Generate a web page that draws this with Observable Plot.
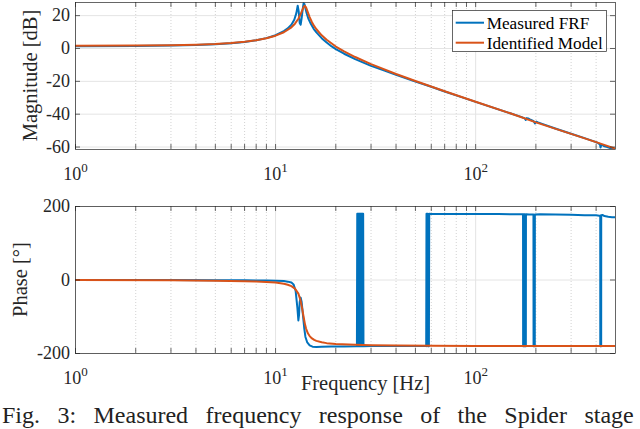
<!DOCTYPE html>
<html><head><meta charset="utf-8">
<script src="https://cdn.jsdelivr.net/npm/d3@7"></script>
<script src="https://cdn.jsdelivr.net/npm/@observablehq/plot@0.6"></script>
<style>
body{margin:0;background:#fff;}
#fig{position:relative;width:640px;height:429px;overflow:hidden;background:#fff;}
#fig > svg{position:absolute;left:0;}
#overlay{top:0;pointer-events:none;}
</style></head><body><div id="fig"></div>
<script>
// ---- data ----
const xMajor = [1, 10, 100];
const xMinor = [2,3,4,5,6,7,8,9,20,30,40,50,60,70,80,90,200,300,400];
const magTicks = [-60, -40, -20, 0, 20];
const phaseTicks = [-200, 0, 200];

const magModelF  = [1,2,3,4,5,6,7,8,9,10,11,12,12.5,13,13.3,13.6,13.8,14,14.2,14.5,14.8,15.2,15.6,16,17,18,20,22,25,30,40,50,70,100,150,200,300,400,500];
const magModelDb = [1.6,1.75,2.0,2.3,2.75,3.35,4.1,5.0,6.2,7.8,9.9,12.9,15.1,18.1,20.5,23.4,25.2,26.0,25.0,22.0,19.1,16.0,13.6,11.7,8.0,5.3,1.2,-1.8,-5.2,-9.5,-15.5,-19.8,-26.0,-32.4,-39.6,-45.0,-52.0,-57.0,-61.0];

const magMeasF  = [1,2,3,4,5,6,7,8,9,10,11,11.5,12,12.4,12.7,12.9,13.05,13.2,13.35,13.5,13.65,13.8,13.95,14.1,14.3,14.6,15,15.5,16,17,18,19,20,22,25,30,35,40,50,60,70,85,100,120,150,170,176,178,180,183,188,195,198,201,205,215,250,300,350,400,410,418,421,425,432,440,455,470,490,500];
const magMeasDb = [1.4,1.5,1.8,2.15,2.65,3.25,4.0,5.0,6.3,8.1,10.6,12.2,14.5,17.5,21.5,26.0,22.5,15.5,14.5,18.5,23.5,27.5,27.0,24.5,21.5,18.0,15.0,12.0,9.8,6.3,3.6,1.4,-0.4,-3.2,-6.5,-10.6,-13.4,-16.0,-20.2,-23.3,-26.2,-29.6,-32.5,-35.7,-39.6,-41.8,-42.6,-43.5,-42.4,-42.6,-43.4,-44.3,-45.6,-44.5,-45.0,-45.9,-48.7,-51.9,-54.6,-57.0,-57.6,-58.4,-60.3,-58.6,-58.9,-59.6,-60.0,-60.6,-61.3,-61.2];

const phModelF   = [1,3,5,7,8,9,10,11,11.5,12,12.5,13,13.3,13.6,13.8,14,14.2,14.5,14.8,15.2,15.6,16,17,18,20,25,30,40,60,100,200,500];
const phModelDeg = [-0.3,-1,-1.9,-3.2,-4,-5.3,-7.1,-10.3,-12.8,-16.7,-23.5,-37,-53.5,-79.6,-100,-118,-132,-145,-152.6,-159,-163,-165.6,-169.6,-171.8,-174.1,-176.4,-177.4,-178.2,-178.9,-179.4,-179.7,-179.9];

const phMeasF   = [1,3,5,7,9,10,11,11.5,12,12.3,12.6,12.85,13.0,13.1,13.2,13.35,13.5,13.7,13.9,14.1,14.4,14.8,15.3,16,17,19,22,25.4,
  25.5,25.6,25.7,25.8,25.9,26.0,26.1,26.2,26.3,26.4,26.5,26.6,26.7,26.8,26.9,27.0,27.1,27.2,27.3,27.4,27.5,
  30,40,50,56.5,56.6,56.8,57.6,57.8,58.4,58.6,60,80,100,130,160,172,172.5,172.7,173.8,174.0,176.2,176.4,178.2,178.4,
  185,193,194.5,194.7,197.5,197.7,210,250,300,350,400,415,419.5,419.7,424,424.2,432,440,460,480,500];
const phMeasDeg = [0,-0.3,-0.6,-1,-1.5,-2,-3,-4.5,-7,-12,-30,-75,-110,-95,-60,-48,-60,-95,-130,-155,-170,-178,-181.5,-182,-181.8,-181.2,-180.8,-180.5,
  -180,180,-180,180,-180,180,-180,180,-180,180,-180,180,-180,180,-180,180,-180,180,-180,180,-180,
  -179.3,-179.6,-179.8,-179.9,-180,180,180,-180,-180,180,179.8,179.6,179.5,179.3,179,179,179,-180,-180,179,179,-180,-180,179,
  178.5,178.5,178.5,-180,-180,178.5,178.8,178,177.5,176.5,176,175,175,-180,-180,176,177,174,172,171,171];

// ---- build tables ----
const magModel = magModelF.map((f,i)=>({f, v:magModelDb[i]}));
const magMeas  = magMeasF.map((f,i)=>({f, v:magMeasDb[i]}));
const phModel  = phModelF.map((f,i)=>({f, v:phModelDeg[i]}));
const phMeas   = phMeasF.map((f,i)=>({f, v:phMeasDeg[i]}));

const BLUE = "#0072BD", ORANGE = "#D95319", AX = "#262626";
const FONT = "'Liberation Serif','Times New Roman',serif";
const W = 640, ML = 75, MR = 25, PH = 147, PW = W - ML - MR, TL = 5;

function panel(opts){
  const {height, marginTop, marginBottom, yDomain, yTicks, meas, model} = opts;
  const xAll = xMajor.concat(xMinor);
  const svg = Plot.plot({
    width: W, height, marginTop, marginBottom, marginLeft: ML, marginRight: MR,
    style: {fontFamily: FONT, fontSize: "18px", color: AX, background: "transparent", overflow: "visible"},
    x: {type: "log", domain: [1, 500], ticks: xMajor, tickFormat: d => "10^" + Math.round(Math.log10(d)), tickSize: 0, tickPadding: 17.5, label: null},
    y: {domain: yDomain, ticks: yTicks, tickFormat: d => String(d), tickSize: 0, tickPadding: 5.5, label: null},
    marks: [
      Plot.ruleX(xMinor, {stroke: "#c6c6c6", strokeDasharray: "1,2", strokeWidth: 0.8}),
      Plot.ruleX(xMajor, {stroke: "#e4e4e4", strokeWidth: 1}),
      Plot.ruleY(yTicks, {stroke: "#e4e4e4", strokeWidth: 1}),
      Plot.line(meas, {x: "f", y: "v", stroke: BLUE, strokeWidth: 2, clip: true}),
      Plot.line(model, {x: "f", y: "v", stroke: ORANGE, strokeWidth: 2, clip: true}),
      Plot.ruleX(xAll, {stroke: AX, strokeWidth: 0.7, insetTop: PH - TL}),
      Plot.ruleX(xAll, {stroke: AX, strokeWidth: 0.7, insetBottom: PH - TL}),
      Plot.ruleY(yTicks, {stroke: AX, strokeWidth: 0.7, insetRight: PW - TL}),
      Plot.ruleY(yTicks, {stroke: AX, strokeWidth: 0.7, insetLeft: PW - TL}),
      Plot.frame({stroke: AX, strokeWidth: 0.7})
    ]
  });
  svg.querySelectorAll("text").forEach(t => {
    const m = /^10\^(\d)$/.exec(t.textContent);
    if (m) {
      t.textContent = "10";
      const ts = document.createElementNS("http://www.w3.org/2000/svg", "tspan");
      ts.setAttribute("dy", "-0.6em");
      ts.setAttribute("font-size", "13px");
      ts.textContent = m[1];
      t.appendChild(ts);
    }
  });
  return svg;
}

const fig = document.getElementById("fig");
const top1 = panel({height: 185, marginTop: 2, marginBottom: 36, yDomain: [-61.5, 28], yTicks: magTicks, meas: magMeas, model: magModel});
top1.style.top = "0px";
const bot = panel({height: 200, marginTop: 16, marginBottom: 37, yDomain: [-200, 200], yTicks: phaseTicks, meas: phMeas, model: phModel});
bot.style.top = "190px";
fig.appendChild(top1);
fig.appendChild(bot);

// ---- labels, legend, caption ----
const NS = "http://www.w3.org/2000/svg";
const ov = document.createElementNS(NS, "svg");
ov.setAttribute("id", "overlay");
ov.setAttribute("width", 640); ov.setAttribute("height", 429);
ov.style.position = "absolute"; ov.style.top = "0px"; ov.style.left = "0px";
ov.setAttribute("font-family", FONT);
fig.appendChild(ov);
function txt(s, attrs){
  const t = document.createElementNS(NS, "text");
  for (const k in attrs) t.setAttribute(k, attrs[k]);
  t.textContent = s; ov.appendChild(t); return t;
}
function el(name, attrs){
  const e = document.createElementNS(NS, name);
  for (const k in attrs) e.setAttribute(k, attrs[k]);
  ov.appendChild(e); return e;
}
txt("Magnitude [dB]", {transform: "translate(37,75.5) rotate(-90)", "text-anchor": "middle", "font-size": "20.5px", fill: AX});
txt("Phase [°]", {transform: "translate(26.5,279.5) rotate(-90)", "text-anchor": "middle", "font-size": "20.5px", fill: AX});
txt("Frequency [Hz]", {x: 365.5, y: 390, "text-anchor": "middle", "font-size": "20.5px", fill: AX});

const seriesNames = ["Measured FRF", "Identified Model"];
const seriesColors = [BLUE, ORANGE];
el("rect", {x: 452.5, y: 10.5, width: 154, height: 41, fill: "#fff", stroke: AX, "stroke-width": 0.7});
seriesNames.forEach((n, i) => {
  const yy = 22.7 + 20 * i;
  el("line", {x1: 455.7, x2: 484, y1: yy, y2: yy, stroke: seriesColors[i], "stroke-width": 2});
  txt(n, {x: 486.7, y: yy + 6, "font-size": "17.2px", fill: "#000"});
});

txt("Fig. 3: Measured frequency response of the Spider stage", {x: 2, y: 423, "font-size": "24px", "word-spacing": "11.4px", fill: "#222"});
</script>
</body></html>
